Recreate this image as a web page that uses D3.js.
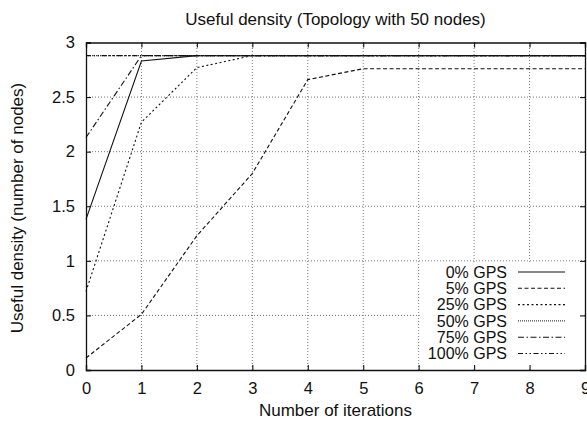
<!DOCTYPE html>
<html><head><meta charset="utf-8">
<script src="https://cdn.jsdelivr.net/npm/d3@7"></script>
<style>
html,body{margin:0;padding:0;background:#fff;}
text{font-family:"Liberation Sans",Arial,Helvetica,sans-serif;fill:#111;}
</style></head>
<body>
<svg id="chart" width="587" height="422"></svg>
<script>
const iterations = [0,1,2,3,4,5,6,7,8,9];
const seriesNames = ["0% GPS","5% GPS","25% GPS","50% GPS","75% GPS","100% GPS"];
const gps0   = [1.38,2.83,2.88,2.88,2.88,2.88,2.88,2.88,2.88,2.88];
const gps5   = [0.11,0.51,1.23,1.80,2.66,2.76,2.76,2.76,2.76,2.76];
const gps25  = [0.72,2.27,2.77,2.88,2.88,2.88,2.88,2.88,2.88,2.88];
const gps50  = [2.88,2.88,2.88,2.88,2.88,2.88,2.88,2.88,2.88,2.88];
const gps75  = [2.13,2.88,2.88,2.88,2.88,2.88,2.88,2.88,2.88,2.88];
const gps100 = [2.88,2.88,2.88,2.88,2.88,2.88,2.88,2.88,2.88,2.88];
const xTicks = [0,1,2,3,4,5,6,7,8,9];
const yTicks = [0,0.5,1,1.5,2,2.5,3];
const yTickLabels = ["0","0.5","1","1.5","2","2.5","3"];
const title = "Useful density (Topology with 50 nodes)";
const xTitle = "Number of iterations";
const yTitle = "Useful density (number of nodes)";

const allSeries = [gps0,gps5,gps25,gps50,gps75,gps100];
const dashes = [null,"4,2.5","2,2.5","1,1","6,2.5,1.5,2.5","5,2.5,1.5,2.5,1.5,2.5"];
const strokes = ["#111","#111","#111","#444","#111","#111"];

const svg = d3.select("#chart");
const L=86, R=585, T=42.5, B=370;
const x = d3.scaleLinear().domain([0,9]).range([L,R]);
const y = d3.scaleLinear().domain([0,3]).range([B,T]);

// grid
const grid = svg.append("g").attr("stroke","#555").attr("stroke-width",0.8).attr("stroke-dasharray","1,2");
grid.selectAll("line.gx").data(xTicks.slice(1,-1)).join("line")
  .attr("x1",d=>x(d)).attr("x2",d=>x(d)).attr("y1",B).attr("y2",T);
grid.selectAll("line.gy").data(yTicks.slice(1,-1)).join("line")
  .attr("x1",L).attr("x2",R).attr("y1",d=>y(d)).attr("y2",d=>y(d));

// legend background
svg.append("rect").attr("x",x(6)+1).attr("y",y(1)+1)
  .attr("width",x(9)-x(6)-2).attr("height",y(0)-y(1)-2).attr("fill","#fff");

// lines
const line = d3.line().x((d,i)=>x(iterations[i])).y(d=>y(d));
svg.append("g").selectAll("path").data(allSeries).join("path")
  .attr("d",d=>line(d)).attr("fill","none")
  .attr("stroke",(d,i)=>strokes[i]).attr("stroke-width",1.1)
  .attr("stroke-dasharray",(d,i)=>dashes[i]);

// axes (inward ticks on all sides)
const tl=5;
svg.append("g").attr("transform",`translate(0,${B})`)
  .call(d3.axisBottom(x).tickValues(xTicks).tickSize(-tl).tickPadding(12).tickFormat(d3.format("d")));
svg.append("g").attr("transform",`translate(0,${T})`)
  .call(d3.axisTop(x).tickValues(xTicks).tickSize(-tl).tickFormat(""));
svg.append("g").attr("transform",`translate(${L},0)`)
  .call(d3.axisLeft(y).tickValues(yTicks).tickSize(-tl).tickPadding(11).tickFormat((d,i)=>yTickLabels[i]));
svg.append("g").attr("transform",`translate(${R},0)`)
  .call(d3.axisRight(y).tickValues(yTicks).tickSize(-tl).tickFormat(""));
svg.selectAll(".domain").attr("stroke","#111").attr("stroke-width",1.3);
svg.selectAll(".tick line").attr("stroke","#111").attr("stroke-width",1.1);
svg.selectAll(".tick text").attr("font-size",16.5).attr("font-family","Liberation Sans, Arial, sans-serif").attr("fill","#111");

// titles
svg.append("text").attr("x",(L+R)/2).attr("y",25).attr("text-anchor","middle").attr("font-size",17).text(title);
svg.append("text").attr("x",(L+R)/2).attr("y",416).attr("text-anchor","middle").attr("font-size",17).text(xTitle);
svg.append("text").attr("transform",`translate(22.5,208) rotate(-90)`).attr("text-anchor","middle").attr("font-size",17).text(yTitle);

// legend
const lg = svg.append("g");
seriesNames.forEach((name,i)=>{
  const yy = 272 + i*16.3;
  lg.append("text").attr("x",507).attr("y",yy).attr("dy","0.35em").attr("text-anchor","end").attr("font-size",16).text(name);
  lg.append("line").attr("x1",518).attr("x2",565).attr("y1",yy).attr("y2",yy)
    .attr("stroke",strokes[i]).attr("stroke-width",1.1).attr("stroke-dasharray",dashes[i]);
});
</script>
</body></html>
